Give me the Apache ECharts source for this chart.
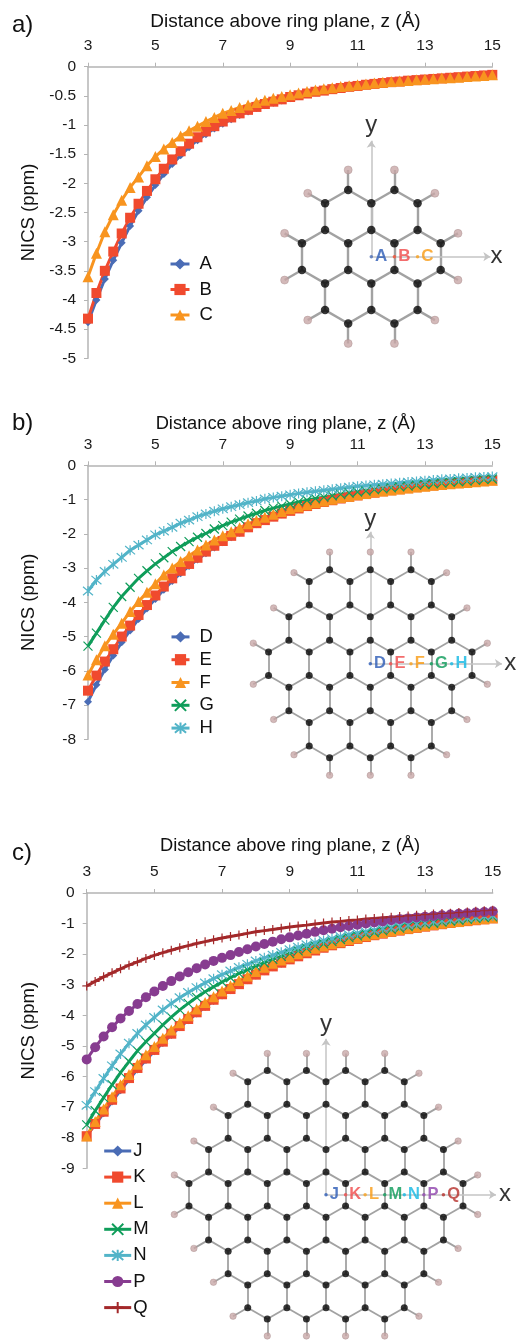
<!DOCTYPE html>
<html><head><meta charset="utf-8"><style>html,body{margin:0;padding:0;background:#fff}#c{width:519px;height:1340px}</style>
<script src="https://cdn.jsdelivr.net/npm/echarts@6/dist/echarts.min.js"></script></head><body><div id="c"></div>
<script>
const zValues=[3,3.25,3.5,3.75,4,4.25,4.5,4.75,5,5.25,5.5,5.75,6,6.25,6.5,6.75,7,7.25,7.5,7.75,8,8.25,8.5,8.75,9,9.25,9.5,9.75,10,10.25,10.5,10.75,11,11.25,11.5,11.75,12,12.25,12.5,12.75,13,13.25,13.5,13.75,14,14.25,14.5,14.75,15];
const xTicks=[3,5,7,9,11,13,15];
const A=[-4.38,-4.00,-3.64,-3.32,-3.02,-2.73,-2.47,-2.24,-2.03,-1.84,-1.67,-1.52,-1.38,-1.26,-1.16,-1.06,-.98,-.90,-.83,-.77,-.71,-.66,-.62,-.58,-.54,-.50,-.47,-.44,-.415,-.39,-.37,-.35,-.33,-.315,-.30,-.285,-.27,-.255,-.245,-.235,-.225,-.215,-.205,-.195,-.185,-.175,-.165,-.155,-.145];
const B=[-4.32,-3.88,-3.5,-3.17,-2.86,-2.59,-2.35,-2.13,-1.93,-1.75,-1.59,-1.45,-1.32,-1.21,-1.11,-1.02,-.94,-.87,-.80,-.74,-.69,-.64,-.60,-.56,-.52,-.49,-.46,-.43,-.41,-.385,-.365,-.345,-.33,-.31,-.295,-.28,-.265,-.255,-.24,-.23,-.22,-.21,-.20,-.19,-.18,-.17,-.16,-.15,-.14];
const C=[-3.6,-3.2,-2.83,-2.54,-2.29,-2.07,-1.89,-1.70,-1.54,-1.41,-1.30,-1.19,-1.10,-1.02,-.94,-.87,-.80,-.75,-.70,-.655,-.615,-.575,-.54,-.51,-.48,-.45,-.425,-.40,-.38,-.36,-.34,-.325,-.31,-.295,-.28,-.265,-.255,-.245,-.235,-.225,-.215,-.205,-.195,-.19,-.18,-.17,-.16,-.15,-.14];
const D=[-6.9,-6.41,-5.96,-5.55,-5.17,-4.82,-4.49,-4.18,-3.90,-3.63,-3.38,-3.15,-2.94,-2.75,-2.57,-2.40,-2.25,-2.10,-1.97,-1.84,-1.72,-1.62,-1.52,-1.43,-1.35,-1.27,-1.20,-1.14,-1.08,-1.03,-.98,-.93,-.89,-.85,-.81,-.77,-.74,-.71,-.68,-.65,-.62,-.60,-.57,-.55,-.53,-.51,-.49,-.47,-.45];
const E=[-6.58,-6.14,-5.73,-5.37,-5.0,-4.68,-4.37,-4.08,-3.80,-3.54,-3.30,-3.08,-2.88,-2.70,-2.52,-2.35,-2.21,-2.06,-1.94,-1.81,-1.69,-1.60,-1.50,-1.41,-1.33,-1.26,-1.19,-1.13,-1.07,-1.02,-.97,-.92,-.88,-.84,-.80,-.76,-.73,-.70,-.67,-.64,-.61,-.59,-.56,-.54,-.52,-.50,-.48,-.46,-.44];
const F=[-6.12,-5.68,-5.27,-4.93,-4.61,-4.27,-3.98,-3.71,-3.46,-3.2,-3.0,-2.81,-2.64,-2.47,-2.33,-2.18,-2.06,-1.94,-1.82,-1.71,-1.61,-1.52,-1.43,-1.35,-1.27,-1.21,-1.15,-1.09,-1.04,-.99,-.94,-.90,-.86,-.82,-.78,-.75,-.72,-.69,-.66,-.63,-.61,-.58,-.56,-.54,-.52,-.50,-.48,-.46,-.44];
const G=[-5.28,-4.9,-4.52,-4.15,-3.83,-3.56,-3.3,-3.08,-2.88,-2.70,-2.52,-2.37,-2.23,-2.10,-1.99,-1.86,-1.76,-1.66,-1.57,-1.48,-1.40,-1.32,-1.25,-1.19,-1.13,-1.07,-1.02,-.97,-.93,-.89,-.85,-.81,-.78,-.75,-.71,-.69,-.66,-.63,-.61,-.58,-.56,-.54,-.52,-.50,-.48,-.46,-.44,-.42,-.40];
const H=[-3.67,-3.35,-3.1,-2.89,-2.69,-2.48,-2.33,-2.18,-2.03,-1.92,-1.81,-1.69,-1.60,-1.50,-1.42,-1.34,-1.27,-1.21,-1.15,-1.09,-1.04,-.98,-.94,-.90,-.86,-.82,-.79,-.76,-.73,-.70,-.67,-.64,-.61,-.59,-.57,-.55,-.53,-.51,-.49,-.47,-.45,-.43,-.41,-.40,-.38,-.37,-.35,-.34,-.33];
const J=[-7.92,-7.58,-7.2,-6.82,-6.45,-6.1,-5.77,-5.46,-5.17,-4.9,-4.64,-4.39,-4.16,-3.94,-3.73,-3.53,-3.35,-3.18,-3.01,-2.85,-2.70,-2.56,-2.43,-2.31,-2.2,-2.09,-1.99,-1.90,-1.81,-1.73,-1.66,-1.59,-1.52,-1.46,-1.40,-1.34,-1.29,-1.24,-1.19,-1.15,-1.11,-1.07,-1.03,-.99,-.96,-.93,-.90,-.87,-.84];
const K=[-7.95,-7.55,-7.15,-6.76,-6.39,-6.05,-5.72,-5.41,-5.13,-4.86,-4.60,-4.35,-4.12,-3.90,-3.69,-3.49,-3.31,-3.14,-2.98,-2.82,-2.67,-2.53,-2.40,-2.28,-2.17,-2.07,-1.97,-1.88,-1.79,-1.71,-1.64,-1.57,-1.50,-1.44,-1.38,-1.33,-1.27,-1.23,-1.18,-1.14,-1.10,-1.06,-1.02,-.98,-.95,-.92,-.89,-.86,-.83];
const L=[-7.94,-7.47,-7.06,-6.66,-6.27,-5.93,-5.60,-5.29,-5.02,-4.75,-4.48,-4.24,-4.01,-3.79,-3.58,-3.39,-3.20,-3.03,-2.86,-2.71,-2.57,-2.43,-2.30,-2.19,-2.09,-1.99,-1.90,-1.81,-1.73,-1.66,-1.59,-1.52,-1.46,-1.40,-1.34,-1.29,-1.24,-1.19,-1.15,-1.11,-1.07,-1.03,-.99,-.96,-.93,-.89,-.86,-.84,-.81];
const M=[-7.58,-7.12,-6.69,-6.27,-5.87,-5.51,-5.16,-4.86,-4.59,-4.31,-4.06,-3.82,-3.61,-3.41,-3.23,-3.07,-2.91,-2.77,-2.63,-2.51,-2.39,-2.28,-2.17,-2.07,-1.98,-1.89,-1.81,-1.73,-1.66,-1.59,-1.52,-1.46,-1.40,-1.34,-1.29,-1.24,-1.19,-1.15,-1.10,-1.06,-1.02,-.99,-.95,-.92,-.89,-.86,-.83,-.80,-.78];
const N=[-6.94,-6.49,-6.06,-5.65,-5.26,-4.91,-4.59,-4.31,-4.07,-3.82,-3.61,-3.42,-3.25,-3.09,-2.94,-2.80,-2.67,-2.55,-2.43,-2.33,-2.22,-2.12,-2.03,-1.94,-1.85,-1.77,-1.69,-1.62,-1.55,-1.49,-1.42,-1.36,-1.31,-1.26,-1.21,-1.16,-1.12,-1.08,-1.04,-1.00,-.97,-.93,-.90,-.87,-.84,-.81,-.79,-.76,-.74];
const P=[-5.44,-5.04,-4.69,-4.39,-4.10,-3.86,-3.63,-3.41,-3.22,-3.04,-2.88,-2.73,-2.59,-2.46,-2.34,-2.22,-2.12,-2.03,-1.93,-1.84,-1.75,-1.67,-1.59,-1.51,-1.45,-1.39,-1.33,-1.27,-1.22,-1.17,-1.12,-1.08,-1.04,-1.00,-.96,-.93,-.89,-.86,-.83,-.80,-.78,-.75,-.73,-.70,-.68,-.66,-.64,-.62,-.60];
const Q=[-3.04,-2.89,-2.74,-2.61,-2.48,-2.36,-2.25,-2.14,-2.04,-1.95,-1.87,-1.79,-1.72,-1.65,-1.59,-1.53,-1.47,-1.42,-1.37,-1.32,-1.27,-1.23,-1.19,-1.15,-1.11,-1.08,-1.05,-1.01,-.98,-.95,-.93,-.90,-.88,-.85,-.83,-.81,-.79,-.77,-.75,-.73,-.71,-.69,-.67,-.66,-.64,-.62,-.60,-.58,-.56];

const FONT='"Liberation Sans",Arial,sans-serif';
const AXIS='#b4b4b4';
const COL={blue:'#4a6cb5',red:'#f04a2e',orange:'#f8941f',green:'#0f9d5a',teal:'#52b4c8',purple:'#873c90',brick:'#a3282a'};
const MARK={
 diamond:{symbol:'diamond',size:8},square:{symbol:'rect',size:10},triangle:{symbol:'triangle',size:11},
 cross:{symbol:'path://M0,0L10,10M0,10L10,0',size:9,open:true},
 star:{symbol:'path://M0,0L10,10M0,10L10,0M5,-1L5,11',size:10,open:true},
 circle:{symbol:'circle',size:10},
 plus:{symbol:'path://M5,0L5,10M0,5L10,5',size:9,open:true}
};
const panels=[
 {tag:'a)',tagY:13,titleX:285.5,titleY:12.5,titleSize:19,top:66.7,bottom:358.3,left:88,right:492.3,yMin:-5,yStep:.5,
  series:[['A',A,COL.blue,'diamond'],['B',B,COL.red,'square'],['C',C,COL.orange,'triangle']],
  legLeft:169,legTop:254.5,legW:19,legGap:6.5,legPad:5,
  mol:{R:1,cx:371.3,cy:256.7,s:26.7,atom:8.5,hyd:8,bond:2.4,markSize:17,xEnd:4.46,yEnd:4.34,xLab:4.69,yLab:4.93,
       marks:[['A',COL.blue,'#2a5ab5'],['B',COL.red,'#f04848'],['C','#f9a01b','#f99a10']]}},
 {tag:'b)',tagY:411,titleX:285.7,titleY:414.5,titleSize:18.3,top:465.3,bottom:739.3,left:88,right:492.3,yMin:-8,yStep:1,
  series:[['D',D,COL.blue,'diamond'],['E',E,COL.red,'square'],['F',F,COL.orange,'triangle'],['G',G,COL.green,'cross'],['H',H,COL.teal,'star']],
  legLeft:170,legTop:627.4,legW:18,legGap:3.8,legPad:5,
  mol:{R:2,cx:370.3,cy:663.7,s:23.5,atom:7,hyd:6.5,bond:1.8,markSize:16.5,xEnd:5.6,yEnd:5.62,xLab:5.96,yLab:6.14,
       marks:[['D','#2a5ab5','#2a5ab5'],['E','#f04848','#f04848'],['F','#f9a01b','#f99a10'],['G','#0a9a58','#0a9a58'],['H','#12b8e4','#12b8e4']]}},
 {tag:'c)',tagY:841,titleX:290,titleY:837,titleSize:18.3,top:893,bottom:1168.3,left:86.7,right:492.7,yMin:-9,yStep:1,
  series:[['J',J,COL.blue,'diamond'],['K',K,COL.red,'square'],['L',L,COL.orange,'triangle'],['M',M,COL.green,'cross'],['N',N,COL.teal,'star'],['P',P,COL.purple,'circle'],['Q',Q,COL.brick,'plus']],
  legLeft:102.7,legTop:1141.5,legW:27,legGap:7.1,legPad:-3,
  mol:{R:3,cx:326,cy:1194.7,s:22.6,atom:7,hyd:6.5,bond:1.8,markSize:16.5,xEnd:7.52,yEnd:6.9,xLab:7.92,yLab:7.55,
       marks:[['J','#2a5ab5','#2a5ab5'],['K','#f04848','#f04848'],['L','#f9a01b','#f99a10'],['M','#0a9a58','#0a9a58'],['N','#12b8e4','#12b8e4'],['P','#8e44ad','#8e44ad'],['Q','#b5302a','#b5302a']]}}
];

// ring lattice of the molecule insets: carbons from hexagon vertices, hydrogens on the edge carbons
function lattice(R){
 const h=Math.sqrt(3)/2, atoms=new Map(), bonds=new Map();
 const key=p=>Math.round(p[0]*100)+','+Math.round(p[1]*100);
 for(let q=-R;q<=R;q++)for(let r=-R;r<=R;r++){
  if(Math.abs(q+r)>R)continue;
  const cx=2*h*(q+r/2),cy=1.5*r;
  const vs=[0,1,2,3,4,5].map(i=>{const a=Math.PI/2+i*Math.PI/3;return [cx+Math.cos(a),cy+Math.sin(a)]});
  vs.forEach((v,i)=>{
   const w=vs[(i+1)%6],kv=key(v),kw=key(w);
   if(!atoms.has(kv))atoms.set(kv,{p:v,n:new Set()});
   if(!atoms.has(kw))atoms.set(kw,{p:w,n:new Set()});
   atoms.get(kv).n.add(kw);atoms.get(kw).n.add(kv);
   bonds.set([kv,kw].sort().join('|'),[v,w]);
  });
 }
 const carbons=[],hydrogens=[],lines=[...bonds.values()];
 atoms.forEach(a=>{
  carbons.push(a.p);
  if(a.n.size===2){
   let dx=0,dy=0;
   a.n.forEach(k=>{const o=atoms.get(k).p;dx+=a.p[0]-o[0];dy+=a.p[1]-o[1]});
   const l=Math.hypot(dx,dy),hp=[a.p[0]+dx/l*.75,a.p[1]+dy/l*.75];
   hydrogens.push(hp);lines.push([a.p,hp]);
  }
 });
 return {carbons,hydrogens,lines};
}

const grid=[],xAxis=[],yAxis=[],series=[],legend=[],title=[];
panels.forEach(p=>{
 const gi=grid.length;
 grid.push({left:p.left,top:p.top,width:p.right-p.left,height:p.bottom-p.top,outerBoundsMode:'none'});
 xAxis.push({gridIndex:gi,type:'value',position:'top',min:3,max:15,
  axisLine:{show:true,onZero:false,lineStyle:{color:AXIS,width:1.5}},
  axisTick:{show:true,length:4,customValues:xTicks,lineStyle:{color:AXIS,width:1}},
  splitLine:{show:false},
  axisLabel:{customValues:xTicks,margin:13,color:'#1a1a1a',fontSize:15.5,fontFamily:FONT,showMinLabel:true,showMaxLabel:true}});
 yAxis.push({gridIndex:gi,type:'value',min:p.yMin,max:0,interval:p.yStep,
  axisLine:{show:true,onZero:false,lineStyle:{color:AXIS,width:1.5}},
  axisTick:{show:true,length:4,lineStyle:{color:AXIS,width:1}},
  splitLine:{show:false},
  axisLabel:{margin:12,color:'#1a1a1a',fontSize:15.5,fontFamily:FONT},
  name:'NICS (ppm)',nameLocation:'middle',nameRotate:90,nameGap:p.left-38,
  nameTextStyle:{color:'#111',fontSize:18.5,fontFamily:FONT}});
 p.series.forEach(([name,vals,color,mk])=>{
  const m=MARK[mk];
  series.push({type:'line',name,xAxisIndex:gi,yAxisIndex:gi,data:vals.map((v,i)=>[zValues[i],v]),
   symbol:m.symbol,symbolSize:m.size,showSymbol:true,showAllSymbol:true,clip:false,smooth:false,
   lineStyle:{color,width:3},
   itemStyle:m.open?{color:'rgba(0,0,0,0)',borderColor:color,borderWidth:1.2}:{color,borderWidth:0},
   emphasis:{disabled:true},silent:true,z:3});
 });
 legend.push({data:p.series.map(s=>s[0]),orient:'vertical',left:p.legLeft,top:p.legTop,height:400,padding:0,
  itemWidth:p.legW,itemHeight:14,itemGap:p.legGap,selectedMode:false,lineStyle:{width:3},
  textStyle:{color:'#111',fontSize:18.5,fontFamily:FONT,padding:[4,0,0,p.legPad]}});
 title.push({text:p.tag,left:12,top:p.tagY,padding:0,textStyle:{color:'#111',fontSize:24,fontWeight:'normal',fontFamily:FONT}});
 title.push({text:'Distance above ring plane, z (Å)',left:p.titleX,top:p.titleY,textAlign:'center',padding:0,
  textStyle:{color:'#111',fontSize:p.titleSize,fontWeight:'normal',fontFamily:FONT}});

 // molecule inset
 const m=p.mol,mg=grid.length,U=12;
 grid.push({left:m.cx-U*m.s,top:m.cy-U*m.s,width:2*U*m.s,height:2*U*m.s,outerBoundsMode:'none'});
 const hidden={gridIndex:mg,type:'value',min:-U,max:U,show:false};
 xAxis.push({...hidden});yAxis.push({...hidden});
 const lat=lattice(m.R),at={xAxisIndex:mg,yAxisIndex:mg,silent:true,emphasis:{disabled:true}};
 const hw=Math.sqrt(3)/2;
 series.push({...at,type:'lines',coordinateSystem:'cartesian2d',z:4,
  lineStyle:{color:'#a2a2a2',width:m.bond,opacity:1,curveness:0},
  data:lat.lines.map(l=>({coords:l}))});
 series.push({...at,type:'lines',coordinateSystem:'cartesian2d',z:5,symbol:['none','arrow'],symbolSize:7,
  lineStyle:{color:'#c4c4c4',width:1.5,opacity:1,curveness:0},
  data:[{coords:[[0,0],[m.xEnd,0]]},{coords:[[0,0],[0,m.yEnd]]}]});
 series.push({...at,type:'scatter',z:6,symbol:'circle',symbolSize:m.hyd,clip:false,itemStyle:{color:'#c8a8a8',borderColor:'#a58a8a',borderWidth:.5},data:lat.hydrogens});
 series.push({...at,type:'scatter',z:6,symbol:'circle',symbolSize:m.atom,clip:false,itemStyle:{color:'#050505'},data:lat.carbons});
 series.push({...at,type:'scatter',z:7,symbolSize:1,itemStyle:{color:'rgba(0,0,0,0)'},clip:false,
  label:{show:true,position:'inside',formatter:'{b}',color:'#000',fontSize:24,fontFamily:FONT},
  data:[{name:'x',value:[m.xLab,0]},{name:'y',value:[0,m.yLab]}]});
 m.marks.forEach(([name,dot,txt],i)=>{
  series.push({...at,type:'scatter',z:8,symbol:'circle',symbolSize:3.5,clip:false,itemStyle:{color:dot},
   label:{show:true,position:'right',distance:2,formatter:'{b}',color:txt,fontSize:m.markSize,fontWeight:'bold',fontFamily:FONT},
   data:[{name,value:[i*hw,0]}]});
 });
});

const chart=echarts.init(document.getElementById('c'),null,{renderer:'canvas'});
chart.setOption({animation:false,backgroundColor:'#fff',title,grid,xAxis,yAxis,legend,series,tooltip:{show:false}});
</script></body></html>
